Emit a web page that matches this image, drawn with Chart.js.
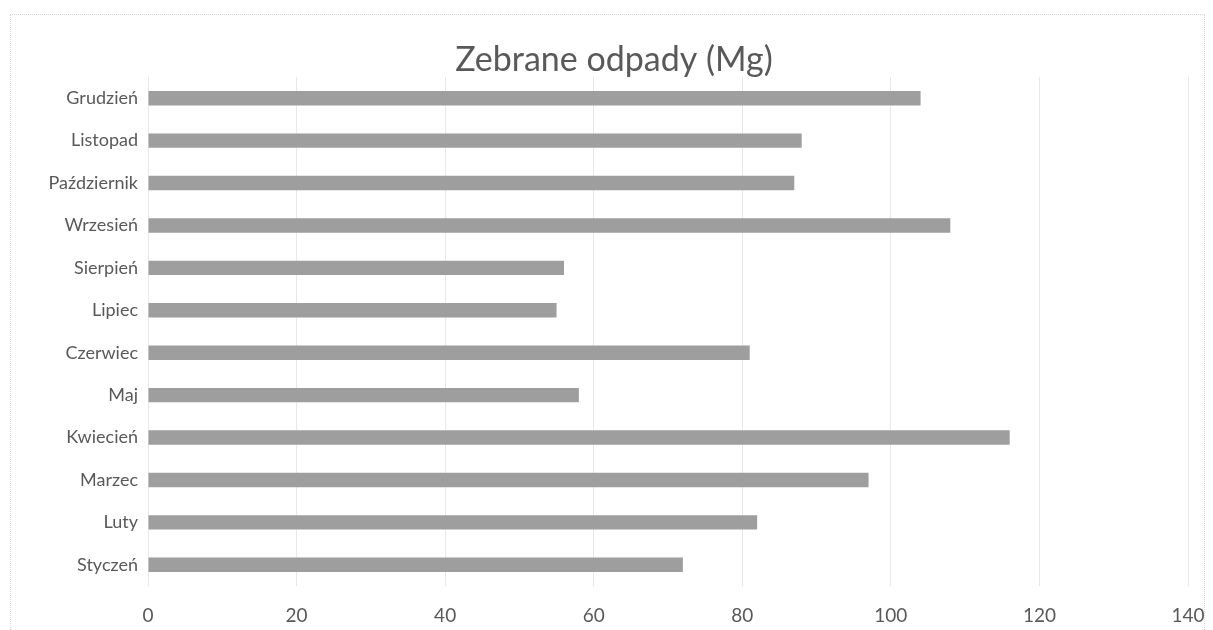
<!DOCTYPE html>
<html>
<head>
<meta charset="utf-8">
<script src="https://cdn.jsdelivr.net/npm/chart.js@4/dist/chart.umd.min.js"></script>
<style>
  html, body { margin: 0; padding: 0; background: #fff; }
  #wrap { position: relative; width: 1213px; height: 630px; }
  #frame { position: absolute; left: 10px; top: 14px; width: 1195px; height: 640px; border: 1px dotted #d4d4d4; box-sizing: border-box; pointer-events: none; }
  canvas { position: absolute; left: 0; top: 0; }
</style>
</head>
<body>
<div id="wrap">
  <canvas id="c" width="1213" height="630"></canvas>
  <div id="frame"></div>
</div>
<script>
const title = 'Zebrane odpady (Mg)';
const categories = ['Grudzień', 'Listopad', 'Październik', 'Wrzesień', 'Sierpień', 'Lipiec', 'Czerwiec', 'Maj', 'Kwiecień', 'Marzec', 'Luty', 'Styczeń'];
const values = [104, 88, 87, 108, 56, 55, 81, 58, 116, 97, 82, 72];
const xMin = 0, xMax = 140, xStep = 20;

new Chart(document.getElementById('c'), {
  type: 'bar',
  data: {
    labels: categories,
    datasets: [{
      data: values,
      backgroundColor: '#9e9e9e',
      borderWidth: 0,
      categoryPercentage: 1.0,
      barPercentage: 0.34
    }]
  },
  options: {
    indexAxis: 'y',
    responsive: false,
    animation: false,
    layout: { padding: { left: 40, right: 25, top: 0, bottom: 3 } },
    plugins: {
      legend: { display: false },
      tooltip: { enabled: false },
      title: {
        display: true,
        text: title,
        color: '#595959',
        font: { family: 'Lato', size: 34, weight: 'normal', lineHeight: 1.0 },
        padding: { top: 43, bottom: 0 }
      }
    },
    scales: {
      x: {
        min: xMin, max: xMax,
        ticks: { stepSize: xStep, color: '#595959', font: { family: 'Lato', size: 19 }, padding: 18 },
        grid: { color: '#e8e8e8', drawTicks: false, lineWidth: 1 },
        border: { display: false },
        afterFit: (s) => { s.height = 41; s.paddingLeft = 0; s.paddingRight = 0; }
      },
      y: {
        ticks: { color: '#595959', font: { family: 'Lato', size: 18 }, padding: 10 },
        grid: { display: false, drawTicks: false },
        border: { display: false },
        afterFit: (s) => { s.width = 108; s.paddingTop = 0; s.paddingBottom = 0; }
      }
    }
  }
});
</script>
</body>
</html>
